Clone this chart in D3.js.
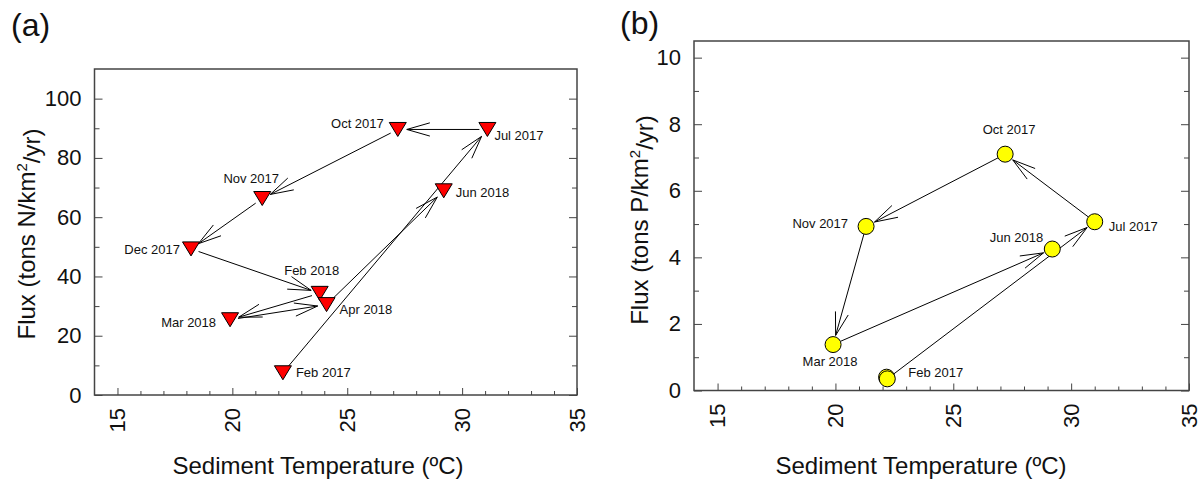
<!DOCTYPE html>
<html>
<head>
<meta charset="utf-8">
<script src="https://d3js.org/d3.v7.min.js"></script>
<style>
  html, body { margin: 0; padding: 0; background: #fff; }
  text { font-family: Arial, "Liberation Sans", sans-serif; fill: #111; }
</style>
</head>
<body>
<div id="chart"></div>
<script>
// ---- data ----
var monthsN = ["Feb 2017", "Jul 2017", "Oct 2017", "Nov 2017", "Dec 2017", "Feb 2018", "Mar 2018", "Apr 2018", "Jun 2018"];
var tempN = [22.2, 31.1, 27.2, 21.3, 18.2, 23.8, 19.9, 24.1, 29.2];
var fluxN = [7.5, 89.6, 89.6, 66.3, 49.3, 34.3, 25.4, 30.5, 68.9];
var arrowsN = [[0, 1], [1, 2], [2, 3], [3, 4], [4, 5], [5, 6], [6, 7], [7, 8]];

var monthsP = ["Feb 2017", "Jul 2017", "Oct 2017", "Nov 2017", "Mar 2018", "Jun 2018"];
var tempP = [22.2, 31.0, 27.2, 21.3, 19.9, 29.2];
var fluxP = [0.35, 5.07, 7.1, 4.93, 1.38, 4.25];
var arrowsP = [[0, 1], [1, 2], [2, 3], [3, 4], [4, 5]];
// second, almost hidden symbol under Feb 2017 in panel b
var extraTempP = [22.17];
var extraFluxP = [0.40];

var xTicks = [15, 20, 25, 30, 35];
var yTicksN = [0, 20, 40, 60, 80, 100];
var yTicksP = [0, 2, 4, 6, 8, 10];

// ---- label placement (dx, dy to baseline, anchor) ----
var labelPosN = [[13, 4, "start"], [7, 11, "start"], [-14, -1, "end"], [-11, -16, "middle"], [-11, 5, "end"],
  [-8, -18, "middle"], [-14, 7, "end"], [13, 9, "start"], [12, 6, "start"]];
var labelPosP = [[21, -2, "start"], [14, 9, "start"], [4, -20, "middle"], [-18, 2, "end"], [-3, 21, "middle"], [-9, -7, "end"]];

var width = 1202;
var height = 482;
var svg = d3.select("#chart").append("svg")
  .attr("width", width)
  .attr("height", height);

var frameColor = "#444";

function arrowPath(x1, y1, x2, y2, s0, s1) {
  var dx = x2 - x1, dy = y2 - y1;
  var len = Math.sqrt(dx * dx + dy * dy);
  var ux = dx / len, uy = dy / len;
  var ax = x1 + ux * s0, ay = y1 + uy * s0;
  var bx = x2 - ux * s1, by = y2 - uy * s1;
  var hl = 24, ang = 16 * Math.PI / 180;
  var c = Math.cos(ang), s = Math.sin(ang);
  // wings rotated from the back direction
  var w1x = bx - hl * (ux * c - uy * s), w1y = by - hl * (uy * c + ux * s);
  var w2x = bx - hl * (ux * c + uy * s), w2y = by - hl * (uy * c - ux * s);
  return "M" + ax + "," + ay + "L" + bx + "," + by +
    "M" + w1x + "," + w1y + "L" + bx + "," + by + "L" + w2x + "," + w2y;
}

function isMinor(v, cfg) {
  return cfg.yTicks.indexOf(Math.round(v * 100) / 100) < 0;
}

function drawPanel(cfg) {
  var g = svg.append("g");
  var x = d3.scaleLinear().domain([14, 35]).range([cfg.left, cfg.right]);
  var y = d3.scaleLinear().domain([0, cfg.yMax]).range([cfg.bottom, cfg.top]);

  // bottom axis: major + minor ticks pointing inward
  g.append("g")
    .attr("transform", "translate(0," + cfg.bottom + ")")
    .call(d3.axisBottom(x).tickValues(d3.range(15, 36).filter(function(v) { return v % 5 !== 0; }))
      .tickSize(-4).tickSizeOuter(0).tickFormat(""))
    .call(function(a) { a.select(".domain").remove(); a.selectAll("line").attr("stroke", frameColor); });
  g.append("g")
    .attr("transform", "translate(0," + cfg.bottom + ")")
    .call(d3.axisBottom(x).tickValues(xTicks).tickSize(-7).tickSizeOuter(0).tickFormat(""))
    .call(function(a) { a.select(".domain").remove(); a.selectAll("line").attr("stroke", frameColor); });

  g.selectAll(".xlab").data(xTicks).enter().append("text")
    .attr("transform", function(d) { return "translate(" + x(d) + "," + (cfg.bottom + 13) + ") rotate(-90)"; })
    .attr("text-anchor", "end")
    .attr("dy", "0.35em")
    .style("font-size", "22px")
    .text(function(d) { return d; });

  // left and right axes
  var minorY = d3.range(cfg.yMinor, cfg.yMax, cfg.yStep).filter(function(v) { return isMinor(v, cfg); });
  [[d3.axisLeft, cfg.left], [d3.axisRight, cfg.right]].forEach(function(p, i) {
    g.append("g")
      .attr("transform", "translate(" + p[1] + ",0)")
      .call(p[0](y).tickValues(minorY).tickSize(-5).tickSizeOuter(0).tickFormat(""))
      .call(function(a) { a.select(".domain").remove(); a.selectAll("line").attr("stroke", frameColor); });
    var ax = g.append("g")
      .attr("transform", "translate(" + p[1] + ",0)")
      .call(p[0](y).tickValues(cfg.yTicks).tickSize(-8).tickSizeOuter(0).tickPadding(13)
        .tickFormat(i === 0 ? d3.format("d") : ""))
      .call(function(a) { a.select(".domain").remove(); a.selectAll("line").attr("stroke", frameColor); });
    ax.selectAll("text")
      .style("font-size", "22px")
      .style("font-family", "Arial, 'Liberation Sans', sans-serif")
      .attr("fill", "#111");
  });

  // frame
  g.append("rect")
    .attr("x", cfg.left)
    .attr("y", cfg.top)
    .attr("width", cfg.right - cfg.left)
    .attr("height", cfg.bottom - cfg.top)
    .attr("fill", "none")
    .attr("stroke", frameColor)
    .attr("stroke-width", 1.5);

  // arrows
  g.selectAll(".arrow").data(cfg.arrows).enter().append("path")
    .attr("d", function(d) {
      return arrowPath(x(cfg.temp[d[0]]), y(cfg.flux[d[0]]), x(cfg.temp[d[1]]), y(cfg.flux[d[1]]), cfg.s0, cfg.s1);
    })
    .attr("fill", "none")
    .attr("stroke", "#000")
    .attr("stroke-width", 1);

  // symbols
  if (cfg.extraTemp) {
    g.selectAll(".extra").data(cfg.extraTemp).enter().append("circle")
      .attr("cx", function(d) { return x(d); })
      .attr("cy", function(d, i) { return y(cfg.extraFlux[i]); })
      .attr("r", 8)
      .attr("fill", cfg.color)
      .attr("stroke", "#000");
  }
  var idx = d3.range(cfg.temp.length);
  if (cfg.symbol === "tri") {
    g.selectAll(".pt").data(idx).enter().append("path")
      .attr("transform", function(i) { return "translate(" + x(cfg.temp[i]) + "," + y(cfg.flux[i]) + ")"; })
      .attr("d", "M-8.5,-7L8.5,-7L0,7Z")
      .attr("fill", cfg.color)
      .attr("stroke", "#000")
      .attr("stroke-width", 1);
  } else {
    g.selectAll(".pt").data(idx).enter().append("circle")
      .attr("cx", function(i) { return x(cfg.temp[i]); })
      .attr("cy", function(i) { return y(cfg.flux[i]); })
      .attr("r", 8)
      .attr("fill", cfg.color)
      .attr("stroke", "#000")
      .attr("stroke-width", 1);
  }

  // point labels
  g.selectAll(".lab").data(idx).enter().append("text")
    .attr("x", function(i) { return x(cfg.temp[i]) + cfg.labelPos[i][0]; })
    .attr("y", function(i) { return y(cfg.flux[i]) + cfg.labelPos[i][1]; })
    .attr("text-anchor", function(i) { return cfg.labelPos[i][2]; })
    .style("font-size", "13px")
    .text(function(i) { return cfg.months[i]; });

  // axis titles
  g.append("text")
    .attr("x", cfg.xTitleX)
    .attr("y", 474)
    .attr("text-anchor", "middle")
    .style("font-size", "24px")
    .text("Sediment Temperature (\u00baC)");

  var yt = g.append("text")
    .attr("transform", "translate(" + cfg.yTitleX + "," + cfg.yTitleY + ") rotate(-90)")
    .attr("text-anchor", "middle")
    .style("font-size", "24px");
  yt.append("tspan").text("Flux (tons " + cfg.elem + "/km");
  yt.append("tspan").attr("dy", "-0.55em").style("font-size", "15px").text("2");
  yt.append("tspan").attr("dy", "0.55em").text("/yr)");

  // panel letter
  g.append("text")
    .attr("x", cfg.letterX)
    .attr("y", cfg.letterY)
    .style("font-size", "32px")
    .text(cfg.letter);
}

drawPanel({
  left: 94.5, right: 577, top: 69, bottom: 395, yMax: 110, yTicks: yTicksN, yMinor: 10, yStep: 20,
  temp: tempN, flux: fluxN, months: monthsN, arrows: arrowsN, labelPos: labelPosN,
  symbol: "tri", color: "#ff0000", s0: 8, s1: 9, elem: "N",
  xTitleX: 318, yTitleX: 35, yTitleY: 234, letter: "(a)", letterX: 11, letterY: 36
});

drawPanel({
  left: 694, right: 1189, top: 41, bottom: 390.5, yMax: 10.5, yTicks: yTicksP, yMinor: 1, yStep: 2,
  temp: tempP, flux: fluxP, months: monthsP, arrows: arrowsP, labelPos: labelPosP,
  extraTemp: extraTempP, extraFlux: extraFluxP,
  symbol: "circle", color: "#ffff00", s0: 8, s1: 9.5, elem: "P",
  xTitleX: 921, yTitleX: 648, yTitleY: 220, letter: "(b)", letterX: 620, letterY: 34
});
</script>
</body>
</html>
